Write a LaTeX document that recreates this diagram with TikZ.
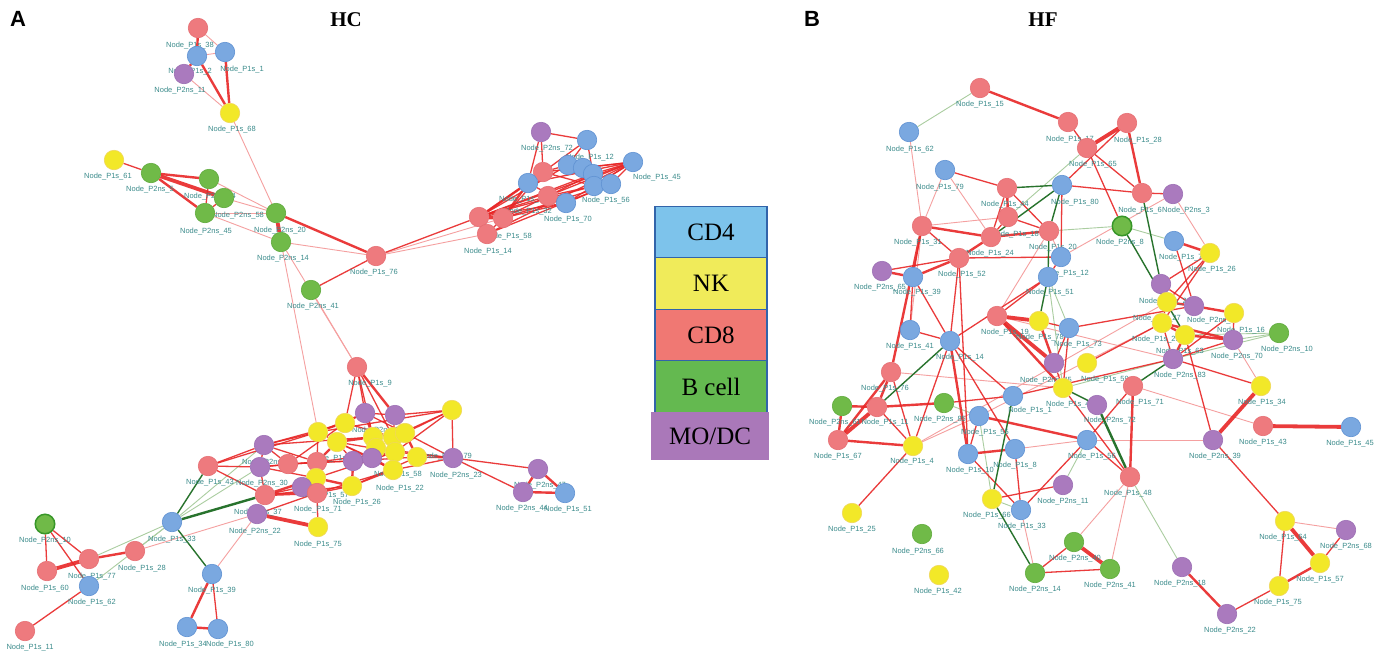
\documentclass[tikz,border=0pt]{standalone}
\usepackage{fontspec}
\setmainfont{Liberation Serif}
\newfontfamily\lblfont{Liberation Sans}
\usetikzlibrary{backgrounds}
\pgfdeclarelayer{edges}
\pgfdeclarelayer{labels}
\pgfsetlayers{edges,labels,main}
\definecolor{cBl}{RGB}{122,168,224}
\definecolor{cBlD}{RGB}{95,145,210}
\definecolor{cYl}{RGB}{242,232,40}
\definecolor{cYlD}{RGB}{240,215,90}
\definecolor{cRd}{RGB}{238,122,126}
\definecolor{cRdD}{RGB}{230,110,115}
\definecolor{cGr}{RGB}{112,186,72}
\definecolor{cGrD}{RGB}{95,170,60}
\definecolor{cGrB}{RGB}{55,150,40}
\definecolor{cPu}{RGB}{170,122,190}
\definecolor{cPuD}{RGB}{155,110,180}
\definecolor{eR}{RGB}{232,38,38}
\definecolor{eP}{RGB}{245,160,160}
\definecolor{eG}{RGB}{40,115,45}
\definecolor{eL}{RGB}{170,205,160}
\definecolor{lblC}{RGB}{60,140,140}
\definecolor{lgA}{RGB}{125,195,235}
\definecolor{lgB}{RGB}{240,235,90}
\definecolor{lgC}{RGB}{240,120,115}
\definecolor{lgD}{RGB}{100,185,80}
\definecolor{lgE}{RGB}{170,120,185}
\definecolor{lgBorder}{RGB}{50,100,170}
\tikzset{
  cell/.style={circle,minimum size=19.5pt,inner sep=0pt,line width=0.6pt},
  bl/.style={fill=cBl,draw=cBlD},
  yl/.style={fill=cYl,draw=cYlD},
  rd/.style={fill=cRd,draw=cRdD},
  gr/.style={fill=cGr,draw=cGrD},
  grb/.style={fill=cGr,draw=cGrB,line width=1.5pt},
  pu/.style={fill=cPu,draw=cPuD},
  lbl/.style={font=\lblfont\fontsize{7.5}{8}\selectfont,text=lblC,inner sep=0pt},
  rA/.style={draw=eR,line width=1.3pt,draw opacity=0.9},
  rB/.style={draw=eR,line width=2.4pt,draw opacity=0.9},
  rC/.style={draw=eR,line width=3.8pt,draw opacity=0.9},
  pk/.style={draw=eP,line width=0.9pt},
  gD/.style={draw=eG,line width=1.4pt},
  gDD/.style={draw=eG,line width=2.4pt},
  gL/.style={draw=eL,line width=0.9pt},
  lgd/.style={draw=lgBorder,line width=1.2pt,minimum width=112pt,minimum height=51.5pt,inner sep=0pt,font=\fontsize{25}{28}\selectfont},
  ttl/.style={font=\bfseries\fontsize{21}{24}\selectfont,inner sep=0pt},
  pnl/.style={font=\lblfont\bfseries\fontsize{22}{24}\selectfont,inner sep=0pt}
}
\newcommand\cellnode[7]{\node[cell,#4] (#1) at (#2,#3) {};\begin{pgfonlayer}{labels}\node[lbl] (#1t) at (#5,#6) {Node\_#7};\end{pgfonlayer}}
\newcommand\cellnn[4]{\node[cell,#4] (#1) at (#2,#3) {};}
\begin{document}
\begin{tikzpicture}[x=1pt,y=-1pt]
\useasboundingbox (0,0) rectangle (1375,654);
\begin{pgfonlayer}{edges}
\fill[white] (0,0) rectangle (1375,654);
\end{pgfonlayer}
% titles
\node[pnl] (tA) at (18,19) {A};
\node[ttl] (tHC) at (346,20) {HC};
\node[pnl] (tB) at (812,19) {B};
\node[ttl] (tHF) at (1043,20) {HF};
% legend
\node[lgd,fill=lgA] (lg1) at (711,232) {CD4};
\node[lgd,fill=lgB] (lg2) at (711,283.5) {NK};
\node[lgd,fill=lgC] (lg3) at (711,335) {CD8};
\node[lgd,fill=lgD] (lg4) at (711,386.5) {B cell};
\node[lgd,fill=lgE,draw=lgE,minimum width=116pt,minimum height=47pt] (lg5) at (710,436) {MO/DC};
% ===== HC =====
\cellnode{t1}{198}{28}{rd}{190}{46}{P1s\_38}
\cellnode{t2}{197}{56}{bl}{190}{72}{P1s\_2}
\cellnode{t3}{225}{52}{bl}{242}{70}{P1s\_1}
\cellnode{t4}{184}{74}{pu}{180}{91}{P2ns\_11}
\cellnode{t5}{230}{113}{yl}{232}{130}{P1s\_68}
\cellnode{g61}{114}{160}{yl}{108}{177}{P1s\_61}
\cellnode{g5}{151}{173}{gr}{150}{190}{P2ns\_5}
\cellnode{g64}{209}{179}{gr}{210}{197}{P2ns\_64}
\cellnode{g58}{224}{198}{gr}{238}{216}{P2ns\_58}
\cellnode{g45}{205}{213}{gr}{206}{232}{P2ns\_45}
\cellnode{g20}{276}{213}{gr}{280}{231}{P2ns\_20}
\cellnode{g14}{281}{242}{gr}{283}{259}{P2ns\_14}
\cellnode{g41}{311}{290}{gr}{313}{307}{P2ns\_41}
\cellnode{r76}{376}{256}{rd}{374}{273}{P1s\_76}
\cellnode{c1}{541}{132}{pu}{547}{149}{P2ns\_72}
\cellnn{c2}{587}{140}{bl}
\cellnode{c3}{633}{162}{bl}{657}{178}{P1s\_45}
\cellnode{c4}{568}{165}{bl}{590}{158}{P1s\_12}
\cellnn{c5}{583}{168}{bl}
\cellnn{c6}{593}{174}{bl}
\cellnn{c7}{543}{172}{rd}
\cellnode{c8}{528}{183}{bl}{523}{200}{P1s\_41}
\cellnode{c9}{594}{186}{bl}{606}{201}{P1s\_56}
\cellnn{c10}{611}{184}{bl}
\cellnn{c11}{548}{196}{rd}
\cellnode{c12}{566}{203}{bl}{568}{220}{P1s\_70}
\cellnode{c13}{479}{217}{rd}{508}{237}{P1s\_58}
\cellnode{c14}{503}{218}{rd}{528}{212}{P1s\_32}
\cellnode{c15}{487}{234}{rd}{488}{252}{P1s\_14}
\cellnode{m9}{357}{367}{rd}{370}{384}{P1s\_9}
\cellnode{p1}{365}{413}{pu}{378}{431}{P2ns\_55}
\cellnn{p2}{395}{415}{pu}
\cellnn{y1}{345}{423}{yl}
\cellnn{y2}{318}{432}{yl}
\cellnode{y3}{337}{442}{yl}{335}{459}{P1s\_47}
\cellnn{y4}{373}{437}{yl}
\cellnn{y5}{393}{437}{yl}
\cellnn{y6}{405}{433}{yl}
\cellnn{y7}{452}{410}{yl}
\cellnn{y8}{376}{448}{yl}
\cellnn{y9}{395}{452}{yl}
\cellnode{y10}{417}{457}{yl}{398}{475}{P1s\_58}
\cellnode{y11}{393}{470}{yl}{400}{489}{P1s\_22}
\cellnode{p3}{264}{445}{pu}{268}{463}{P2ns\_39}
\cellnode{r1}{208}{466}{rd}{210}{483}{P1s\_43}
\cellnode{p4}{260}{467}{pu}{262}{484}{P2ns\_30}
\cellnn{r2}{288}{464}{rd}
\cellnn{r3}{317}{462}{rd}
\cellnn{p5}{353}{461}{pu}
\cellnn{p6}{372}{458}{pu}
\cellnode{y12}{316}{478}{yl}{325}{496}{P1s\_57}
\cellnn{p7}{302}{487}{pu}
\cellnode{r4}{317}{493}{rd}{318}{510}{P1s\_71}
\cellnode{y13}{352}{486}{yl}{357}{503}{P1s\_26}
\cellnode{r5}{265}{495}{rd}{258}{513}{P1s\_37}
\cellnode{p8}{257}{514}{pu}{255}{532}{P2ns\_22}
\cellnode{y14}{318}{527}{yl}{318}{545}{P1s\_75}
\cellnode{p9}{453}{458}{pu}{456}{476}{P2ns\_23}
\begin{pgfonlayer}{labels}\node[lbl] (p9x) at (446,457) {Node\_P2ns\_79};\end{pgfonlayer}
\cellnode{pR1}{538}{469}{pu}{540}{486}{P2ns\_47}
\cellnode{pR2}{523}{492}{pu}{522}{509}{P2ns\_44}
\cellnode{bR}{565}{493}{bl}{568}{510}{P1s\_51}
\cellnode{q10}{45}{524}{grb}{45}{541}{P2ns\_10}
\cellnode{q60}{47}{571}{rd}{45}{589}{P1s\_60}
\cellnode{q77}{89}{559}{rd}{92}{577}{P1s\_77}
\cellnode{q28}{135}{551}{rd}{142}{569}{P1s\_28}
\cellnode{q62}{89}{586}{bl}{92}{603}{P1s\_62}
\cellnode{q11}{25}{631}{rd}{30}{648}{P1s\_11}
\cellnode{b33}{172}{522}{bl}{172}{540}{P1s\_33}
\cellnode{b39}{212}{574}{bl}{212}{591}{P1s\_39}
\cellnode{b34}{187}{627}{bl}{183}{645}{P1s\_34}
\cellnode{b80}{218}{629}{bl}{230}{645}{P1s\_80}
% ===== HF =====
\cellnode{n15}{980}{88}{rd}{980}{105}{P1s\_15}
\cellnode{n62}{909}{132}{bl}{910}{150}{P1s\_62}
\cellnode{n17}{1068}{122}{rd}{1070}{140}{P1s\_17}
\cellnode{n28}{1127}{123}{rd}{1138}{141}{P1s\_28}
\cellnode{n65}{1087}{148}{rd}{1093}{165}{P1s\_65}
\cellnode{n79}{945}{170}{bl}{940}{188}{P1s\_79}
\cellnode{n44}{1007}{188}{rd}{1005}{205}{P1s\_44}
\cellnode{n80}{1062}{185}{bl}{1075}{203}{P1s\_80}
\cellnode{nrX}{1142}{193}{rd}{1140}{211}{P1s\_6}
\cellnode{n3}{1173}{194}{pu}{1186}{211}{P2ns\_3}
\cellnode{n31}{922}{226}{rd}{918}{243}{P1s\_31}
\cellnode{nr2}{1008}{217}{rd}{1015}{235}{P1s\_18}
\cellnode{nr3}{991}{237}{rd}{990}{254}{P1s\_24}
\cellnode{nr4}{1049}{231}{rd}{1053}{248}{P1s\_20}
\cellnode{n8}{1122}{226}{grb}{1120}{243}{P2ns\_8}
\cellnode{n52}{959}{258}{rd}{962}{275}{P1s\_52}
\cellnode{n65p}{882}{271}{pu}{880}{288}{P2ns\_65}
\cellnode{n39}{913}{277}{bl}{917}{293}{P1s\_39}
\cellnode{n12}{1061}{257}{bl}{1065}{274}{P1s\_12}
\cellnode{n51}{1048}{277}{bl}{1050}{293}{P1s\_51}
\cellnode{n74}{1174}{241}{bl}{1183}{258}{P1s\_74}
\cellnode{n26}{1210}{253}{yl}{1212}{270}{P1s\_26}
\cellnode{n19}{997}{316}{rd}{1005}{333}{P1s\_19}
\cellnode{nyA}{1039}{321}{yl}{1040}{338}{P1s\_78}
\cellnode{n7}{1069}{328}{bl}{1078}{345}{P1s\_73}
\cellnode{n41}{910}{330}{bl}{910}{347}{P1s\_41}
\cellnode{n14}{950}{341}{bl}{960}{358}{P1s\_14}
\cellnode{n76}{891}{372}{rd}{885}{389}{P1s\_76}
\cellnode{npA}{1054}{363}{pu}{1046}{381}{P2ns\_45}
\cellnode{nyB}{1087}{363}{yl}{1105}{380}{P1s\_59}
\cellnode{n49}{1063}{388}{yl}{1070}{405}{P1s\_49}
\cellnode{n72}{1097}{405}{pu}{1110}{421}{P2ns\_72}
\cellnode{nP1}{1161}{284}{pu}{1163}{302}{P2ns\_2}
\cellnode{nYP}{1167}{302}{yl}{1157}{319}{P1s\_27}
\cellnode{nP2}{1194}{306}{pu}{1211}{321}{P2ns\_7}
\cellnode{nY3}{1234}{313}{yl}{1241}{331}{P1s\_16}
\cellnode{nY4}{1162}{323}{yl}{1156}{340}{P1s\_29}
\cellnode{nY5}{1185}{335}{yl}{1180}{352}{P1s\_63}
\cellnode{n70}{1233}{340}{pu}{1237}{357}{P2ns\_70}
\cellnode{n10}{1279}{333}{gr}{1287}{350}{P2ns\_10}
\cellnode{n83}{1173}{359}{pu}{1180}{376}{P2ns\_83}
\cellnode{n71}{1133}{386}{rd}{1140}{403}{P1s\_71}
\cellnode{n34}{1261}{386}{yl}{1262}{403}{P1s\_34}
\cellnode{n43}{1263}{426}{rd}{1263}{443}{P1s\_43}
\cellnode{n45}{1351}{427}{bl}{1350}{444}{P1s\_45}
\cellnode{n39p}{1213}{440}{pu}{1215}{457}{P2ns\_39}
\cellnode{nG1}{842}{406}{gr}{835}{423}{P2ns\_61}
\cellnode{n11}{877}{407}{rd}{885}{423}{P1s\_11}
\cellnode{n67}{838}{440}{rd}{838}{457}{P1s\_67}
\cellnode{n4}{913}{446}{yl}{912}{462}{P1s\_4}
\cellnode{n85}{944}{403}{gr}{940}{420}{P2ns\_85}
\cellnode{n1}{1013}{396}{bl}{1030}{411}{P1s\_1}
\cellnode{n55}{979}{416}{bl}{985}{433}{P1s\_55}
\cellnode{n10b}{968}{454}{bl}{970}{471}{P1s\_10}
\cellnode{n8b}{1015}{449}{bl}{1015}{466}{P1s\_8}
\cellnode{n56}{1087}{440}{bl}{1092}{457}{P1s\_56}
\cellnode{n11p}{1063}{485}{pu}{1063}{502}{P2ns\_11}
\cellnode{n66}{992}{499}{yl}{987}{516}{P1s\_66}
\cellnode{n33}{1021}{510}{bl}{1022}{527}{P1s\_33}
\cellnode{n25}{852}{513}{yl}{852}{530}{P1s\_25}
\cellnode{n66g}{922}{534}{gr}{918}{552}{P2ns\_66}
\cellnode{n42}{939}{575}{yl}{938}{592}{P1s\_42}
\cellnode{n14g}{1035}{573}{gr}{1035}{590}{P2ns\_14}
\cellnode{n40g}{1074}{542}{gr}{1075}{559}{P2ns\_40}
\cellnode{n48}{1130}{477}{rd}{1128}{494}{P1s\_48}
\cellnode{n41g}{1110}{569}{gr}{1110}{586}{P2ns\_41}
\cellnode{n18}{1182}{567}{pu}{1180}{584}{P2ns\_18}
\cellnode{n22}{1227}{614}{pu}{1230}{631}{P2ns\_22}
\cellnode{n64}{1285}{521}{yl}{1283}{538}{P1s\_64}
\cellnode{n68}{1346}{530}{pu}{1346}{547}{P2ns\_68}
\cellnode{n57}{1320}{563}{yl}{1320}{580}{P1s\_57}
\cellnode{n75}{1279}{586}{yl}{1278}{603}{P1s\_75}
% ===== edges =====
\begin{pgfonlayer}{edges}
\foreach \a/\b in {t1/t3,t2/t3,t4/t5,t5/g20,g64/g20,g58/g20,g45/g20,g45/g14,g14/r76,g14/m9,g41/m9,c15/r76,c14/r76,q28/p8,b39/p8,g14/y2,
  n62/n31,n79/n31,n79/nr3,n3/n26,n3/n12,n31/nr2,nr4/n12,nr4/n19,n4/n55,n8b/n56,n56/n39p,n33/n14g,n40g/n48,n41g/n48,n71/n43,n70/n34,n64/n68,n19/n83,n55/nY4,n76/n49,n31/n41,n4/nYP}
  \draw[pk] (\a)--(\b);
\foreach \a/\b in {q77/b33,q62/b33,b33/p3,b33/p4,q28/b33,
  n15/n62,n65/nr2,n8/nr4,n8/n74,n51/n7,n51/n49,n49/n83,n85/n55,n55/n66,n56/n11p,n66/n33,n48/n18,n70/n10,nY5/n10,n83/n10}
  \draw[gL] (\a)--(\b);
\foreach \a/\b in {g61/g5,g64/g45,g58/g45,g41/r76,c13/r76,c1/c2,c1/c7,c1/c8,c2/c4,c2/c8,c2/c6,c3/c5,c3/c6,c3/c9,c3/c10,c3/c7,c3/c8,c7/c4,c7/c9,c8/c12,c12/c14,c12/c13,c14/c15,c7/c13,c7/c14,c4/c13,c9/c13,c10/c14,c10/c12,c6/c14,c11/c9,c11/c3,c11/c13,c12/c3,c15/c3,c15/c10,c13/c6,c13/c3,
  m9/p1,m9/y1,m9/y4,m9/y5,p1/p2,p1/y1,p2/y5,p2/y6,p2/y7,y2/y1,y2/y3,y2/p1,y3/p5,y3/p6,y2/r3,p3/y2,p3/y1,p3/r2,p3/p4,p3/r3,p3/y4,r1/p3,r1/p4,r1/r5,r1/y2,p4/r2,p4/r5,p4/y12,p4/r3,r2/r3,r2/y1,r2/p5,r3/p5,r3/y12,p6/y8,y8/y9,y5/y9,y7/p9,y7/y6,y7/y5,y7/y9,y10/p9,y9/p9,y11/p9,y6/p9,y8/p9,y12/p7,p7/r4,r4/y13,y12/y9,r4/y11,r5/y13,r5/p7,p8/r4,r4/y14,y13/y11,y13/y10,p9/pR1,p9/pR2,q10/q60,q10/q77,q10/q62,q62/q11,b39/b80,y1/y5,y4/y6,p1/y6,y3/y9,p5/y10,y2/y7,r3/y9,y3/y11,
  n17/n65,n65/nrX,n65/n8,n79/n44,n44/nr3,n44/nr4,n80/nrX,n80/n12,n31/n52,n31/n39,nr2/nr3,nr2/nr4,n52/n65p,n52/n12,n52/n14,n39/n41,n39/n14,n12/n51,n51/n19,n51/n14,nyA/n7,n7/npA,n7/n49,n7/nP2,npA/n49,n41/n14,n14/n4,n14/n1,n14/n8b,n76/n4,n11/n4,n4/n25,n85/n1,n55/n10b,n10b/n33,n10b/n52,n8b/n33,n56/n48,n56/n33,n56/n71,n66/n11p,n14g/n40g,n14g/n41g,n48/n49,nP1/nP2,nP1/n26,nYP/nY4,nY3/n70,n83/nY4,n83/n70,n83/nY3,n74/nP2,n26/nY4,n26/nYP,n83/n34,nY5/n39p,n39p/n64,n68/n57,n64/n75,n75/n22,nyB/nY4,n1/n83,n28/n80,nrX/n3}
  \draw[rA] (\a)--(\b);
\foreach \a/\b in {t1/t2,t2/t4,t2/t5,t3/t5,g5/g64,g5/g45,g20/r76,c4/c5,c5/c6,c6/c9,c9/c10,c7/c8,c8/c13,c8/c14,c13/c15,m9/p2,p1/y4,y3/y4,r3/y3,p5/p6,p5/y13,p6/y11,p6/y9,p6/y4,y6/y10,y12/y13,r5/y12,r5/r4,pR1/pR2,pR1/bR,pR2/bR,q77/q28,b39/b34,b34/b80,
  n31/n76,n76/n11,n76/n67,n11/nG1,n11/n85,nG1/n67,n67/n4,n19/n49,nyA/npA,n28/nrX,n44/nr2,nr3/nr4,nr3/n52,n31/nr3,n52/n39,n65p/n39,n10b/n8b,n48/n71,nP1/nYP,nYP/nP2,nY4/nY5,nP2/nY3,nY5/n70,nY4/n70,n83/nY5,n74/n26,n57/n75,n22/n18,n15/n17,n55/n56,n14/n10b}
  \draw[rB] (\a)--(\b);
\foreach \a/\b in {g5/g58,g20/g14,c13/c14,p8/y14,q60/q77,
  n28/n65,n40g/n41g,n39p/n34,n43/n45,n64/n57,n11/n67,n19/nyA,n19/npA}
  \draw[rC] (\a)--(\b);
\foreach \a/\b in {b33/b39,b33/r1,
  n44/n80,n80/nr3,n80/nr4,nrX/nP1,n8/nY5,nr4/n51,n49/n72,n71/n83,n14/n11,n1/n66,n66/n14g,n51/nyA}
  \draw[gD] (\a)--(\b);
\foreach \a/\b in {b33/r5,n48/n72}
  \draw[gDD] (\a)--(\b);
\end{pgfonlayer}
\end{tikzpicture}
\end{document}
